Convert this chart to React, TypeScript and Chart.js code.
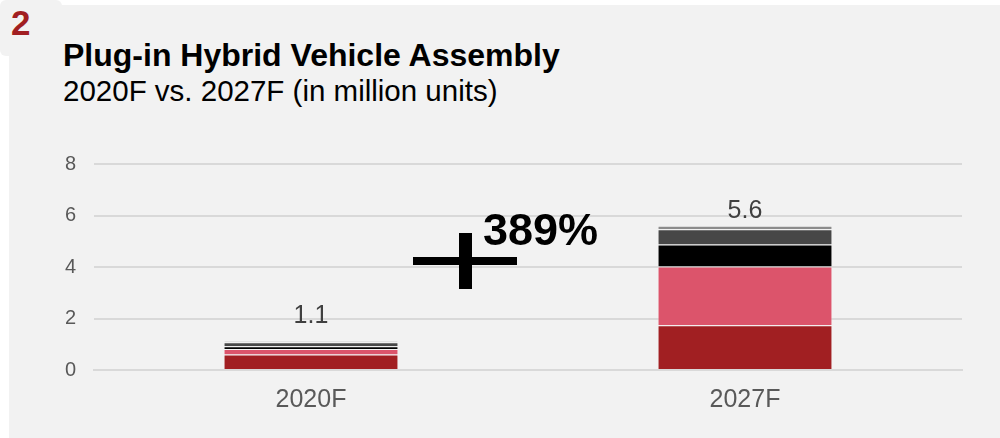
import React, { useEffect, useRef } from "react";
import { Chart, registerables } from "chart.js";

Chart.register(...registerables);

const categories = ["2020F", "2027F"];
const seriesDarkRed = [0.6, 1.74];
const seriesPink = [0.22, 2.28];
const seriesBlack = [0.1, 0.85];
const seriesDarkGray = [0.16, 0.6];
const seriesLightGray = [0.04, 0.13];
const totalLabels = ["1.1", "5.6"];
const yTicks = [0, 2, 4, 6, 8];

const FONT = "'Liberation Sans', Arial, sans-serif";
const LABEL_GAPS = [18, 8];

const totalsPlugin = {
  id: "totals",
  afterDatasetsDraw(chart: any) {
    const { ctx, scales } = chart;
    ctx.save();
    ctx.font = `25px ${FONT}`;
    ctx.fillStyle = "#404040";
    ctx.textAlign = "center";
    ctx.textBaseline = "alphabetic";
    categories.forEach((c, i) => {
      let sum = 0;
      chart.data.datasets.forEach((d: any) => (sum += d.data[i]));
      const x = scales.x.getPixelForValue(i);
      const y = scales.y.getPixelForValue(sum);
      ctx.fillText(totalLabels[i], x, y - LABEL_GAPS[i]);
    });
    ctx.restore();
  },
};

export default function App() {
  const ref = useRef<HTMLCanvasElement>(null);
  useEffect(() => {
    if (!ref.current) return;
    const mk = (label: string, data: number[], color: string) => ({
      label,
      data,
      backgroundColor: color,
      borderColor: "rgba(255,255,255,0.35)",
      borderWidth: 1,
      barPercentage: 0.403,
      categoryPercentage: 1,
    });
    const chart = new Chart(ref.current, {
      type: "bar",
      data: {
        labels: categories,
        datasets: [
          mk("A", seriesDarkRed, "#a11f22"),
          mk("B", seriesPink, "#dc546b"),
          mk("C", seriesBlack, "#000000"),
          mk("D", seriesDarkGray, "#474747"),
          mk("E", seriesLightGray, "#8c8c8c"),
        ],
      },
      options: {
        animation: false,
        responsive: false,
        maintainAspectRatio: false,
        layout: { padding: { left: 0, right: 38, top: 164, bottom: 0 } },
        plugins: { legend: { display: false }, tooltip: { enabled: false } },
        scales: {
          x: {
            stacked: true,
            grid: { display: false, drawTicks: false },
            border: { display: true, color: "#d9d9d9", width: 2 },
            ticks: { font: { size: 25, family: FONT }, color: "#595959", padding: 15 },
            afterFit: (s: any) => { s.height = 68; },
          },
          y: {
            stacked: true,
            min: 0,
            max: 8,
            afterBuildTicks: (s: any) => { s.ticks = yTicks.map((v) => ({ value: v })); },
            grid: { color: "#d9d9d9", lineWidth: 2, drawTicks: false },
            border: { display: false },
            ticks: { font: { size: 20, family: FONT }, color: "#595959", padding: 18 },
            afterFit: (s: any) => { s.width = 94; },
          },
        },
      },
      plugins: [totalsPlugin],
    });
    return () => chart.destroy();
  }, []);

  const txt = { position: "absolute" as const, lineHeight: 1, whiteSpace: "nowrap" as const };
  return (
    <div style={{ position: "fixed", left: 0, top: 0, width: 1000, height: 438, background: "#ffffff", fontFamily: FONT, overflow: "hidden" }}>
      <div style={{ position: "absolute", left: 9, top: 5, width: 991, height: 433, background: "#f2f2f2" }} />
      <div style={{ position: "absolute", left: 0, top: 0, width: 62, height: 56, background: "#f2f2f2", borderRadius: 6 }} />
      <div style={{ ...txt, left: 11, top: 5, fontSize: 35, fontWeight: "bold", color: "#a11f22" }}>2</div>
      <div style={{ ...txt, left: 63, top: 39, fontSize: 32, fontWeight: "bold", color: "#000" }}>Plug-in Hybrid Vehicle Assembly</div>
      <div style={{ ...txt, left: 63, top: 76, fontSize: 29.5, color: "#000" }}>2020F vs. 2027F (in million units)</div>
      <canvas ref={ref} width={1000} height={438} style={{ position: "absolute", left: 0, top: 0, width: 1000, height: 438 }} />
      <div style={{ position: "absolute", left: 413, top: 257, width: 104, height: 8, background: "#000" }} />
      <div style={{ position: "absolute", left: 459, top: 233, width: 13, height: 56, background: "#000" }} />
      <div style={{ ...txt, left: 483, top: 207, fontSize: 45, fontWeight: "bold", color: "#000" }}>389%</div>
    </div>
  );
}
